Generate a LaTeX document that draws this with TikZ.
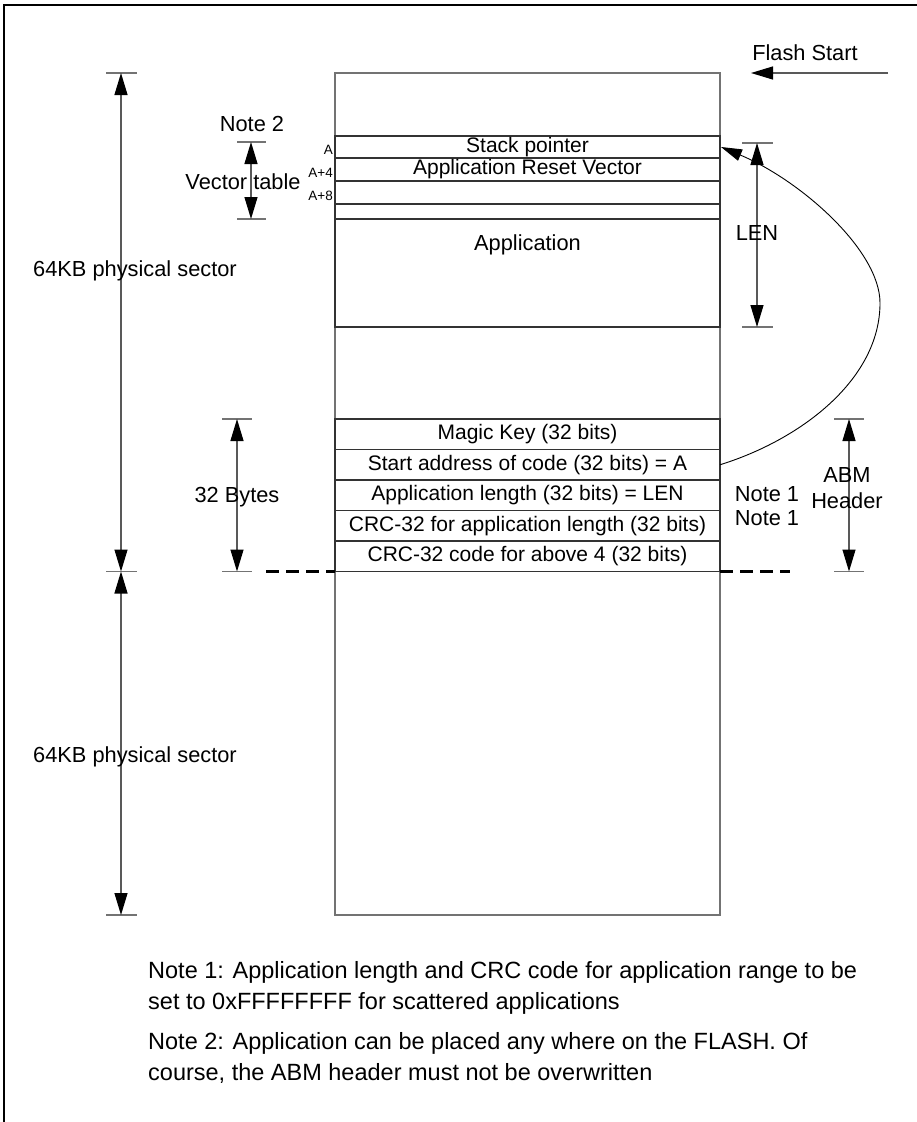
\documentclass[tikz,border=0pt]{standalone}
\usepackage{fontspec}
\setmainfont{Liberation Sans}
\usetikzlibrary{arrows.meta}
\begin{document}
\begin{tikzpicture}[x=1pt,y=-1pt,
  outline/.style={draw=black!55, line width=1.3pt, inner sep=0pt, outer sep=0pt},
  rowbox/.style={draw=black!80, line width=1.2pt, minimum width=385pt, inner sep=0pt, outer sep=0pt, anchor=north west, font=\fontsize{21}{25}\selectfont},
  lbl/.style={font=\fontsize{21.8}{26}\selectfont, inner sep=0pt},
  addr/.style={font=\fontsize{13.5}{15}\selectfont, inner sep=0pt, anchor=east},
  tick/.style={draw=black!55, line width=1.3pt},
  dimline/.style={draw=black!65, line width=1.2pt, {Triangle[length=22pt,width=13pt,color=black]}-{Triangle[length=22pt,width=13pt,color=black]}},
  onearrow/.style={draw=black!65, line width=1.2pt, -{Triangle[length=22pt,width=13pt,color=black]}},
  curvearrow/.style={draw=black, line width=0.9pt, -{Triangle[length=21pt,width=12pt,color=black]}},
  dashline/.style={draw=black, line width=2.4pt, dash pattern=on 13pt off 7pt},
  note/.style={font=\fontsize{23.5}{31}\selectfont, inner sep=0pt, anchor=west, align=left}
]
\useasboundingbox (0,0) rectangle (917,1122);
\draw[line width=1.6pt] (4,1122) -- (4,5) -- (917,5);

% main flash rectangle
\node[outline, minimum width=385pt, minimum height=842pt, anchor=north west] (flash) at (335,73) {};

% rows
\node[rowbox, minimum height=22pt] (sp) at (335,136) {Stack pointer};
\node[rowbox, minimum height=23pt] (rv) at (335,158) {Application Reset Vector};
\node[rowbox, minimum height=23pt] (r3) at (335,181) {};
\node[rowbox, minimum height=15pt] (r4) at (335,204) {};
\node[rowbox, minimum height=108pt] (app) at (335,219) {};
\node[lbl] (apptxt) at (527.5,245) {Application};
\node[rowbox, minimum height=30.5pt] (magic) at (335,419) {Magic Key (32 bits)};
\node[rowbox, minimum height=30.5pt] (start) at (335,449.5) {Start address of code (32 bits) = A};
\node[rowbox, minimum height=30.5pt] (len) at (335,480) {Application length (32 bits) = LEN};
\node[rowbox, minimum height=30.5pt] (crc1) at (335,510.5) {CRC-32 for application length (32 bits)};
\node[rowbox, minimum height=30.5pt] (crc2) at (335,541) {CRC-32 code for above 4 (32 bits)};

% address labels
\node[addr] (a0) at (333,150) {A};
\node[addr] (a4) at (333,173) {A+4};
\node[addr] (a8) at (333,196) {A+8};

% left dimension: the two 64KB sectors
\coordinate (s1t) at (121,73);
\coordinate (s1b) at (121,571.5);
\coordinate (s2b) at (121,915);
\draw[tick] ([xshift=-15pt]s1t) -- ([xshift=16pt]s1t);
\draw[tick] ([xshift=-15pt]s1b) -- ([xshift=16pt]s1b);
\draw[tick] ([xshift=-15pt]s2b) -- ([xshift=16pt]s2b);
\draw[dimline] (s1t) -- (s1b);
\draw[dimline] (s1b) -- (s2b);
\node[lbl] (sec1) at (135,271) {64KB physical sector};
\node[lbl] (sec2) at (135,757) {64KB physical sector};

% vector table
\coordinate (vtt) at (251,142);
\coordinate (vtb) at (251,219);
\draw[tick] ([xshift=-14pt]vtt) -- ([xshift=15pt]vtt);
\draw[tick] ([xshift=-14pt]vtb) -- ([xshift=15pt]vtb);
\draw[dimline] (vtt) -- (vtb);
\node[lbl] (note2) at (252,124) {Note 2};
\node[lbl] (vtl) at (243,182) {Vector table};

% 32 bytes
\coordinate (bt) at (237,419);
\coordinate (bb) at (237,571.5);
\draw[tick] ([xshift=-15pt]bt) -- ([xshift=15pt]bt);
\draw[tick] ([xshift=-15pt]bb) -- ([xshift=15pt]bb);
\draw[dimline] (bt) -- (bb);
\node[lbl] (bytes) at (237,497) {32 Bytes};

% LEN
\coordinate (lt) at (757,143);
\coordinate (lb) at (757,327);
\draw[tick] ([xshift=-15pt]lt) -- ([xshift=16pt]lt);
\draw[tick] ([xshift=-15pt]lb) -- ([xshift=16pt]lb);
\draw[dimline] (lt) -- (lb);
\node[lbl] (lenl) at (757,233) {LEN};

% ABM header
\coordinate (ht) at (849,419);
\coordinate (hb) at (849,571.5);
\draw[tick] ([xshift=-15pt]ht) -- ([xshift=15pt]ht);
\draw[tick] ([xshift=-15pt]hb) -- ([xshift=15pt]hb);
\draw[dimline] (ht) -- (hb);
\node[lbl] (abm) at (847,475) {ABM};
\node[lbl] (hdr) at (847,501) {Header};

% Note 1 markers
\node[lbl] (n1a) at (767,494) {Note 1};
\node[lbl] (n1b) at (767,518) {Note 1};

% Flash start
\node[lbl] (fs) at (805,53) {Flash Start};
\coordinate (fsr) at (888,73);
\coordinate (fsl) at (751,73);
\draw[onearrow] (fsr) -- (fsl);

% curve from start address to stack pointer
\draw[curvearrow] (start.east) .. controls (800,440) and (880,380) .. (880,303)
  .. controls (880,250) and (800,180) .. ([xshift=1pt]sp.east);

% dashed boundary
\coordinate (dl) at (266,571.5);
\coordinate (dr) at (790,571.5);
\draw[dashline] (dl |- crc2.south west) -- (crc2.south west);
\draw[dashline] (crc2.south east) -- (dr |- crc2.south east);

% notes
\node[note] (notes1) at (148,987.5) {Note 1: Application length and CRC code for application range to be\\set to 0xFFFFFFFF for scattered applications};
\node[note] (notes2) at (148,1058) {Note 2: Application can be placed any where on the FLASH. Of\\course, the ABM header must not be overwritten};
\end{tikzpicture}
\end{document}
